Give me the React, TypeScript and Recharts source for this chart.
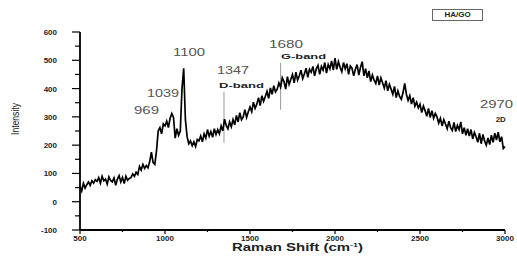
import {
  Line,
  LineChart,
  ReferenceDot,
  ReferenceLine,
  XAxis,
  YAxis,
} from "recharts";

// Raman spectrum of HA/GO, sampled every 10 cm-1 from 500 to 3000
const SHIFT_START = 500;
const SHIFT_STEP = 10;

const intensity = [
  55, 38, 65, 48, 60, 70, 58, 74, 66, 78, // 500
  72, 85, 66, 90, 74, 80, 62, 88, 75, 70, // 600
  84, 58, 80, 92, 70, 86, 64, 90, 76, 82, // 700
  85, 98, 90, 104, 96, 125, 112, 132, 118, 128, // 800
  120, 142, 175, 138, 132, 180, 250, 262, 240, 275, // 900
  268, 285, 262, 295, 312, 298, 225, 258, 235, 250, // 1000
  400, 472, 290, 230, 205, 215, 198, 212, 195, 220, // 1100
  215, 232, 212, 240, 225, 255, 232, 248, 228, 258, // 1200
  238, 255, 240, 268, 250, 292, 270, 258, 282, 265, // 1300
  290, 272, 305, 282, 315, 290, 300, 325, 298, 318, // 1400
  335, 318, 352, 330, 345, 368, 340, 375, 355, 372, // 1500
  390, 365, 402, 380, 410, 388, 398, 420, 405, 438, // 1600
  425, 398, 442, 415, 432, 450, 420, 458, 430, 445, // 1700
  465, 435, 452, 472, 440, 468, 458, 478, 445, 470, // 1800
  482, 450, 478, 465, 492, 455, 485, 470, 498, 465, // 1900
  508, 468, 495, 475, 460, 492, 470, 488, 450, 480, // 2000
  472, 445, 468, 485, 448, 475, 495, 445, 470, 438, // 2100
  462, 425, 448, 430, 418, 445, 412, 438, 420, 402, // 2200
  428, 392, 415, 398, 380, 408, 368, 392, 372, 362, // 2300
  385, 418, 380, 358, 375, 345, 368, 338, 352, 332, // 2400
  345, 315, 338, 322, 302, 330, 298, 322, 295, 312, // 2500
  300, 278, 295, 268, 290, 275, 258, 285, 262, 252, // 2600
  280, 248, 270, 255, 282, 240, 262, 235, 258, 232, // 2700
  255, 222, 245, 230, 210, 242, 205, 238, 215, 200, // 2800
  225, 202, 235, 210, 242, 218, 246, 212, 230, 188, // 2900
  195,
];

const xTicks = [500, 750, 1000, 1250, 1500, 1750, 2000, 2250, 2500, 2750, 3000];
const xMajor = [500, 1000, 1500, 2000, 2500, 3000];
const yTicks = [-100, -50, 0, 50, 100, 150, 200, 250, 300, 350, 400, 450, 500, 550, 600];
const yMajor = [-100, 0, 100, 200, 300, 400, 500, 600];

// peak annotations: text, anchor (shift, intensity), width in px, bold
const peakLabels = [
  { text: "969", x: 891, y: 322, w: 25, bold: false },
  { text: "1039", x: 988, y: 382, w: 32, bold: false },
  { text: "1100", x: 1141, y: 526, w: 32, bold: false },
  { text: "1347", x: 1400, y: 463, w: 32, bold: false },
  { text: "D-band", x: 1450, y: 410, w: 45, bold: true },
  { text: "1680", x: 1712, y: 555, w: 34, bold: false },
  { text: "G-band", x: 1815, y: 512, w: 45, bold: true },
  { text: "2970", x: 2950, y: 343, w: 33, bold: false },
  { text: "2D", x: 2975, y: 290, w: 10, bold: true },
];

const bandMarkers = [
  { x: 1347, from: 208, to: 389 },
  { x: 1680, from: 325, to: 491 },
];

const data = intensity.map((v, i) => ({ shift: SHIFT_START + i * SHIFT_STEP, intensity: v }));

const FONT = "'Liberation Sans', Arial, sans-serif";

function XTick(props: any) {
  const { x, y, payload } = props;
  const major = xMajor.includes(payload.value);
  return (
    <g>
      <line x1={x} x2={x} y1={y} y2={y + (major ? 4 : 2)} stroke="#000" strokeWidth={1.2} />
      {major && (
        <text x={x} y={y + 11} textAnchor="middle" fontSize={8} fontWeight="bold" fontFamily={FONT} fill="#222">
          {payload.value}
        </text>
      )}
    </g>
  );
}

function YTick(props: any) {
  const { x, y, payload } = props;
  const major = yMajor.includes(payload.value);
  return (
    <g>
      <line x1={x - (major ? 8 : 5)} x2={x} y1={y} y2={y} stroke="#000" strokeWidth={1.2} />
      {major && (
        <text x={x - 23} y={y + 3} textAnchor="end" fontSize={8} fontWeight="bold" fontFamily={FONT} fill="#222">
          {payload.value}
        </text>
      )}
    </g>
  );
}

function Ann(props: any) {
  const { viewBox, text, w, bold } = props;
  const cx = viewBox.x + (viewBox.width || 0) / 2;
  const cy = viewBox.y + (viewBox.height || 0) / 2;
  return (
    <text
      x={cx}
      y={cy}
      textAnchor="middle"
      dominantBaseline="central"
      fontSize={bold ? 8 : 10}
      fontWeight={bold ? "bold" : "normal"}
      fontFamily={FONT}
      fill={bold ? "#222" : "#555"}
      textLength={w}
      lengthAdjust="spacingAndGlyphs"
    >
      {text}
    </text>
  );
}

function YTitle(props: any) {
  const { viewBox } = props;
  const cx = viewBox.x + 15;
  const cy = 119;
  return (
    <text
      x={cx}
      y={cy}
      transform={`rotate(-90 ${cx} ${cy})`}
      textAnchor="middle"
      dominantBaseline="central"
      fontSize={10}
      fontFamily={FONT}
      fill="#222"
      textLength={32}
      lengthAdjust="spacingAndGlyphs"
    >
      Intensity
    </text>
  );
}

function XTitle(props: any) {
  const { viewBox } = props;
  const cx = viewBox.x + viewBox.width / 2 + 5;
  return (
    <text
      x={cx}
      y={251}
      textAnchor="middle"
      fontSize={10}
      fontWeight="bold"
      fontFamily={FONT}
      fill="#222"
      textLength={131}
      lengthAdjust="spacingAndGlyphs"
    >
      Raman Shift (cm
      <tspan dy={-4} fontSize={6}>-1</tspan>
      <tspan dy={4}>)</tspan>
    </text>
  );
}

export default function App() {
  return (
    <div style={{ position: "absolute", left: 0, top: 0, width: 517, height: 260, background: "#fff" }}>
      <LineChart width={517} height={260} data={data} margin={{ top: 32, right: 12, bottom: 0, left: 0 }}>
        <XAxis
          dataKey="shift"
          type="number"
          domain={[500, 3000]}
          ticks={xTicks}
          interval={0}
          height={30}
          tickSize={0}
          tickMargin={0}
          tickLine={false}
          tick={<XTick />}
          axisLine={{ stroke: "#000", strokeWidth: 1.8 }}
          label={<XTitle />}
        />
        <YAxis
          type="number"
          domain={[-100, 600]}
          ticks={yTicks}
          interval={0}
          width={80}
          tickSize={0}
          tickMargin={0}
          tickLine={false}
          tick={<YTick />}
          axisLine={{ stroke: "#000", strokeWidth: 1.8 }}
          label={<YTitle />}
        />
        {bandMarkers.map((b) => (
          <ReferenceLine
            key={b.x}
            segment={[{ x: b.x, y: b.from }, { x: b.x, y: b.to }]}
            stroke="#999"
            strokeWidth={1}
          />
        ))}
        <Line
          dataKey="intensity"
          type="linear"
          stroke="#000"
          strokeWidth={1.7}
          dot={false}
          isAnimationActive={false}
        />
        {peakLabels.map((p) => (
          <ReferenceDot
            key={p.text}
            x={p.x}
            y={p.y}
            r={0}
            fill="none"
            stroke="none"
            ifOverflow="visible"
            label={<Ann text={p.text} w={p.w} bold={p.bold} />}
          />
        ))}
      </LineChart>
      <div
        style={{
          position: "absolute",
          left: 432,
          top: 9,
          width: 49,
          height: 10,
          border: "1px solid #666",
          fontFamily: FONT,
          fontSize: 8,
          fontWeight: "bold",
          lineHeight: "10px",
          textAlign: "center",
          color: "#222",
        }}
      >
        HA/GO
      </div>
    </div>
  );
}
